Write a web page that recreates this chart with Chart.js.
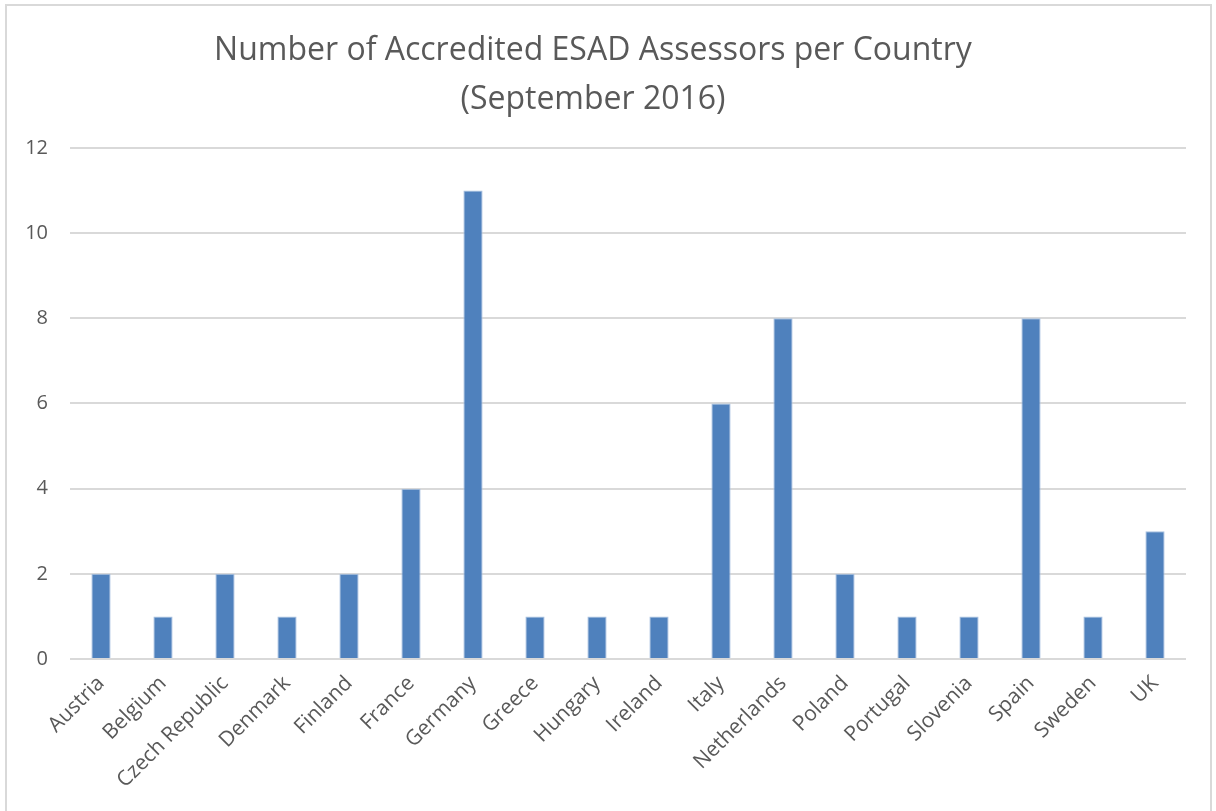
<!DOCTYPE html>
<html>
<head>
<meta charset="utf-8">
<script src="https://cdn.jsdelivr.net/npm/chart.js@4"></script>
<style>
  body { margin: 0; background: #fff; overflow: hidden; }
  #frame { position: absolute; left: 5px; top: 4px; width: 1207px; height: 830px; border: 2px solid #d9d9d9; box-sizing: border-box; }
  #wrap { position: absolute; left: 0; top: 0; width: 1216px; height: 811px; }
</style>
</head>
<body>
<div id="frame"></div>
<div id="wrap"><canvas id="my-chart"></canvas></div>
<script>
const countries = ['Austria', 'Belgium', 'Czech Republic', 'Denmark', 'Finland', 'France', 'Germany',
  'Greece', 'Hungary', 'Ireland', 'Italy', 'Netherlands', 'Poland', 'Portugal', 'Slovenia',
  'Spain', 'Sweden', 'UK'];
const assessors = [2, 1, 2, 1, 2, 4, 11, 1, 1, 1, 6, 8, 2, 1, 1, 8, 1, 3];
const yTicks = [0, 2, 4, 6, 8, 10, 12];

const fontFamily = '"Open Sans", sans-serif';
const textColor = '#595959';

const ctx = document.getElementById('my-chart');
const myChart = new Chart(ctx, {
  type: 'bar',
  data: {
    labels: countries,
    datasets: [{
      data: assessors,
      backgroundColor: '#4f81bd',
      borderColor: '#a9c1e0',
      borderWidth: 1,
      barPercentage: 0.31,
      categoryPercentage: 1
    }]
  },
  options: {
    responsive: true,
    maintainAspectRatio: false,
    animation: false,
    layout: { padding: { left: 0, right: 30, top: 26, bottom: 14 } },
    plugins: {
      legend: { display: false },
      tooltip: { enabled: false },
      title: {
        display: true,
        text: ['Number of Accredited ESAD Assessors per Country', '(September 2016)'],
        color: textColor,
        font: { family: fontFamily, size: 32, weight: 'normal', lineHeight: 1.53 },
        padding: { top: 0, bottom: 24 }
      }
    },
    scales: {
      x: {
        grid: { display: false },
        border: { display: false },
        ticks: {
          color: textColor,
          font: { family: fontFamily, size: 21 },
          maxRotation: 45,
          minRotation: 45,
          autoSkip: false,
          padding: 4
        }
      },
      y: {
        min: 0,
        max: 12,
        afterFit: (axis) => { axis.width = 70; },
        afterBuildTicks: (axis) => { axis.ticks = yTicks.map(v => ({ value: v })); },
        grid: { color: '#d9d9d9', lineWidth: 2, drawTicks: false },
        border: { display: false },
        ticks: {
          color: textColor,
          font: { family: fontFamily, size: 20 },
          padding: 22
        }
      }
    }
  }
});
</script>
</body>
</html>
